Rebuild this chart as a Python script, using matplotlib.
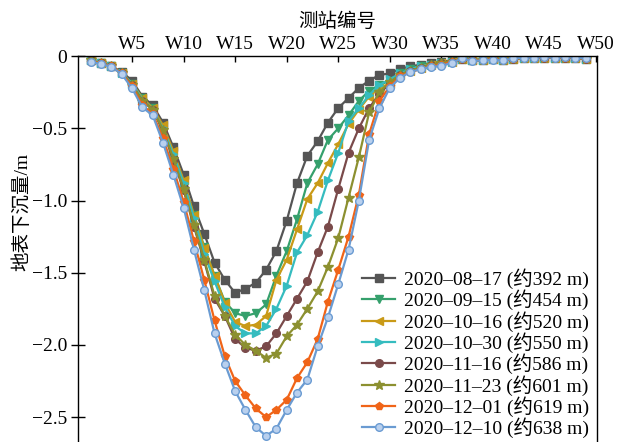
"""
Surface subsidence profiles along the monitoring line, one curve per survey date.
"""

import matplotlib

matplotlib.use("Agg")
import matplotlib.pyplot as plt

plt.rcParams["font.family"] = ["Liberation Serif", "Noto Sans CJK SC"]
plt.rcParams["axes.unicode_minus"] = True

OUTPUT_PNG = "out.png"

STATIONS = list(range(1, 50))
TICK_STATIONS = [5, 10, 15, 20, 25, 30, 35, 40, 45, 50]
TICK_LABELS = [f"W{n}" for n in TICK_STATIONS]
Y_TICKS = [0, -0.5, -1.0, -1.5, -2.0, -2.5]

LABELS = [
    "2020–08–17 (约392 m)",
    "2020–09–15 (约454 m)",
    "2020–10–16 (约520 m)",
    "2020–10–30 (约550 m)",
    "2020–11–16 (约586 m)",
    "2020–11–23 (约601 m)",
    "2020–12–01 (约619 m)",
    "2020–12–10 (约638 m)",
]

# subsidence in metres (positive = downward), stations W1..W49
S_0817 = [0.03, 0.05, 0.07, 0.11, 0.17, 0.28, 0.34, 0.46, 0.63, 0.82,
          1.04, 1.23, 1.43, 1.55, 1.64, 1.61, 1.57, 1.48, 1.35, 1.14,
          0.88, 0.69, 0.59, 0.46, 0.36, 0.29, 0.22, 0.17, 0.13, 0.12,
          0.09, 0.07, 0.06, 0.05, 0.04, 0.03, 0.02, 0.03, 0.03, 0.02,
          0.03, 0.02, 0.01, 0.01, 0.01, 0.01, 0.01, 0.01, 0.02]
S_0915 = [0.03, 0.05, 0.07, 0.12, 0.19, 0.29, 0.36, 0.49, 0.67, 0.87,
          1.10, 1.32, 1.52, 1.70, 1.78, 1.80, 1.78, 1.72, 1.52, 1.35,
          1.13, 0.88, 0.75, 0.58, 0.50, 0.41, 0.31, 0.24, 0.20, 0.17,
          0.12, 0.09, 0.07, 0.06, 0.05, 0.04, 0.02, 0.03, 0.03, 0.02,
          0.03, 0.02, 0.01, 0.01, 0.01, 0.01, 0.01, 0.01, 0.02]
S_1016 = [0.03, 0.05, 0.07, 0.12, 0.19, 0.29, 0.36, 0.48, 0.66, 0.86,
          1.10, 1.33, 1.52, 1.71, 1.84, 1.87, 1.86, 1.80, 1.55, 1.41,
          1.20, 0.99, 0.88, 0.74, 0.61, 0.47, 0.37, 0.28, 0.22, 0.19,
          0.13, 0.10, 0.08, 0.06, 0.05, 0.04, 0.02, 0.03, 0.03, 0.02,
          0.03, 0.02, 0.01, 0.01, 0.01, 0.01, 0.01, 0.01, 0.02]
S_1030 = [0.03, 0.05, 0.07, 0.12, 0.19, 0.30, 0.37, 0.50, 0.68, 0.88,
          1.12, 1.37, 1.56, 1.74, 1.87, 1.92, 1.92, 1.87, 1.75, 1.59,
          1.36, 1.24, 1.08, 0.86, 0.67, 0.45, 0.36, 0.27, 0.20, 0.16,
          0.12, 0.09, 0.07, 0.06, 0.05, 0.04, 0.02, 0.03, 0.03, 0.02,
          0.03, 0.02, 0.01, 0.01, 0.01, 0.01, 0.01, 0.01, 0.02]
S_1116 = [0.03, 0.05, 0.07, 0.12, 0.20, 0.31, 0.37, 0.52, 0.72, 0.93,
          1.18, 1.42, 1.68, 1.80, 1.96, 2.02, 2.04, 2.01, 1.92, 1.80,
          1.68, 1.56, 1.36, 1.18, 0.92, 0.67, 0.50, 0.36, 0.26, 0.19,
          0.13, 0.10, 0.08, 0.06, 0.05, 0.04, 0.02, 0.03, 0.03, 0.02,
          0.03, 0.02, 0.01, 0.01, 0.01, 0.01, 0.01, 0.01, 0.02]
S_1123 = [0.03, 0.05, 0.07, 0.12, 0.20, 0.31, 0.37, 0.51, 0.71, 0.92,
          1.17, 1.41, 1.66, 1.80, 1.93, 2.00, 2.04, 2.09, 2.06, 1.94,
          1.86, 1.75, 1.63, 1.46, 1.26, 0.98, 0.70, 0.39, 0.25, 0.18,
          0.13, 0.10, 0.08, 0.06, 0.05, 0.04, 0.02, 0.03, 0.03, 0.02,
          0.03, 0.02, 0.01, 0.01, 0.01, 0.01, 0.01, 0.01, 0.02]
S_1201 = [0.04, 0.05, 0.07, 0.12, 0.21, 0.34, 0.40, 0.57, 0.78, 1.01,
          1.28, 1.55, 1.83, 2.08, 2.25, 2.35, 2.44, 2.50, 2.45, 2.38,
          2.23, 2.12, 1.96, 1.70, 1.48, 1.25, 0.96, 0.54, 0.31, 0.21,
          0.14, 0.11, 0.09, 0.07, 0.06, 0.04, 0.02, 0.03, 0.03, 0.02,
          0.03, 0.02, 0.01, 0.01, 0.01, 0.01, 0.01, 0.01, 0.02]
S_1210 = [0.04, 0.055, 0.074, 0.125, 0.224, 0.355, 0.41, 0.60, 0.82, 1.05,
          1.34, 1.62, 1.92, 2.13, 2.32, 2.45, 2.57, 2.63, 2.58, 2.45,
          2.33, 2.24, 2.01, 1.81, 1.58, 1.34, 1.00, 0.58, 0.36, 0.22,
          0.15, 0.11, 0.09, 0.074, 0.069, 0.046, 0.016, 0.033, 0.03, 0.025,
          0.03, 0.016, 0.01, 0.01, 0.007, 0.01, 0.005, 0.01, 0.016]

SERIES = [S_0817, S_0915, S_1016, S_1030, S_1116, S_1123, S_1201, S_1210]

COLORS = ["#555555", "#35a06c", "#c99a17", "#35bcbf",
          "#7a4a4a", "#8c9030", "#f06418", "#6a9bd2"]
MARKERS = ["s", "v", "<", ">", "o", "*", "p", "o"]


def draw_profiles(ax):
    for values, label, color, marker in zip(SERIES, LABELS, COLORS, MARKERS):
        face = "#b9d0ee" if label.startswith("2020–12–10") else color
        ax.plot(STATIONS, [-v for v in values], color=color, lw=1.6,
                marker=marker, ms=5.5 if marker != "*" else 7,
                mfc=face, mec=color, mew=1.0, label=label)


def style_axes(ax):
    ax.set_xlim(-0.25, 50.1)
    ax.set_ylim(-2.7, 0)
    ax.xaxis.tick_top()
    ax.xaxis.set_label_position("top")
    ax.set_xticks(TICK_STATIONS)
    ax.set_xticklabels(TICK_LABELS)
    ax.set_yticks(Y_TICKS)
    ax.set_yticklabels(["0", "−0.5", "−1.0", "−1.5", "−2.0", "−2.5"])
    ax.tick_params(axis="x", direction="in", length=4, width=1, labelsize=14, pad=2)
    ax.tick_params(axis="y", direction="inout", length=10, width=1, labelsize=14, pad=3)
    ax.set_xlabel("测站编号", fontsize=14, labelpad=7)
    ax.set_ylabel("地表下沉量/m", fontsize=14)
    ax.yaxis.set_label_coords(-0.09, 0.6)
    for spine in ax.spines.values():
        spine.set_linewidth(1.0)

    ax.legend(loc="lower right", bbox_to_anchor=(1.0, 0.0), frameon=False,
              fontsize=14, handlelength=1.7, handletextpad=0.45,
              labelspacing=0.035, borderaxespad=0.2, borderpad=0.2)


def main():
    fig = plt.figure(figsize=(6.29, 4.42), dpi=100)
    ax = fig.add_axes([0.124, -0.009, 0.825, 0.882])
    draw_profiles(ax)
    style_axes(ax)
    fig.savefig(OUTPUT_PNG, dpi=100)


if __name__ == "__main__":
    main()
